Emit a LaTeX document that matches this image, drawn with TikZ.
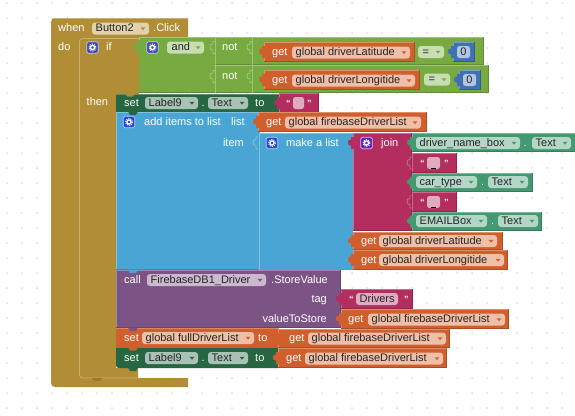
\documentclass[tikz,border=0pt]{standalone}
\usepackage{fontspec}
\setmainfont{Liberation Sans}
\definecolor{ctrl}{HTML}{B18E35}
\definecolor{logic}{HTML}{77AB41}
\definecolor{mathb}{HTML}{3F71B5}
\definecolor{textb}{HTML}{B32D5E}
\definecolor{listb}{HTML}{49A6D4}
\definecolor{varb}{HTML}{D05F2D}
\definecolor{procb}{HTML}{7C5385}
\definecolor{setb}{HTML}{266643}
\definecolor{getb}{HTML}{439970}
\definecolor{fctrl}{HTML}{E0D2AE}
\definecolor{flogic}{HTML}{C9DDB3}
\definecolor{fmath}{HTML}{B2C6E1}
\definecolor{ftext}{HTML}{E1ABBF}
\definecolor{fvar}{HTML}{EFBFA8}
\definecolor{fproc}{HTML}{CBBACE}
\definecolor{fset}{HTML}{A8C2B4}
\definecolor{fget}{HTML}{B4D6C6}
\colorlet{afctrl}{ctrl}
\colorlet{aflogic}{logic}
\colorlet{afvar}{varb}
\colorlet{afproc}{procb}
\colorlet{afset}{setb}
\colorlet{afget}{getb}
\definecolor{icif}{HTML}{3F4CB0}
\definecolor{iclist}{HTML}{2347D8}
\definecolor{icjoin}{HTML}{5B1FC9}
\definecolor{gridc}{HTML}{DEDEDE}
\newcount\nn
\tikzset{
 lbl/.style={anchor=west,inner sep=0pt,text=white,font=\fontsize{11}{11}\selectfont,text height=8pt,text depth=2pt},
 flbl/.style={lbl,text=black!85},
 rlbl/.style={lbl,anchor=east}
}
% label: x, y-centre, text
\newcommand{\lab}[3]{\global\advance\nn by 1 \node[lbl] (n\the\nn) at (#1,#2) {#3};}
\newcommand{\rlab}[3]{\global\advance\nn by 1 \node[rlbl] (n\the\nn) at (#1,#2) {#3};}
% block: colour x1 y1 x2 y2
\newcommand{\blk}[5]{%
 \fill[#1] (#2,#3) rectangle (#4,#5);
 \draw[#1!70!white,line width=.8pt] (#2+.4,#5) -- (#2+.4,#3+.4) -- (#4,#3+.4);
 \draw[#1!82!black,line width=.8pt] (#2,#5-.4) -- (#4-.4,#5-.4) -- (#4-.4,#3);
}
% input tab on the left of x at y
\newcommand{\tabb}[3]{%
 \begin{scope}[shift={(#2,#3)}]
 \fill[#1] (1,-6) -- (-2,-6) -- (-2,-3.5) .. controls (-6,-4.5) and (-6,3.5) .. (-2,2.5) -- (-2,6) -- (1,6) -- cycle;
 \end{scope}}
\newcommand{\hole}[3]{%
 \begin{scope}[shift={(#2,#3)}]
 \draw[#1,line width=.8pt] (0,-6) -- (-2,-6) -- (-2,-3.5) .. controls (-6,-4.5) and (-6,3.5) .. (-2,2.5) -- (-2,6) -- (0,6);
 \end{scope}}
% statement bump below: colour x y
\newcommand{\bump}[3]{\fill[#1] (#2-5,#3-.5) -- (#2-3,#3+3) -- (#2+3,#3+3) -- (#2+5,#3-.5) -- cycle;}
% pill with dropdown: fill x1 x2 y text
\newcommand{\pill}[5]{%
 \fill[#1,rounded corners=3pt] (#2,#4-6) rectangle (#3,#4+6);
 \global\advance\nn by 1 \node[flbl] (n\the\nn) at (#2+3.5,#4) {#5};
 \fill[a#1] (#3-8.5,#4-1.2) -- (#3-3.5,#4-1.2) -- (#3-6,#4+1.6) -- cycle;
}
% gear icon: colour xc yc
\newcommand{\gear}[3]{%
 \fill[#1,draw=white!70!#1,line width=.7pt,rounded corners=1.5pt] (#2-5.7,#3-5.7) rectangle (#2+5.7,#3+5.7);
 \draw[white,line width=1.3pt] (#2,#3) circle (2.1);
 \draw[white,line width=1pt,dash pattern=on 1pt off 1.2pt] (#2,#3) circle (3.5);
}
% empty text quotes: x1 x2 y
\newcommand{\qmark}[3]{%
 \global\advance\nn by 1 \node[lbl,font=\fontsize{9}{9}\selectfont\bfseries] (n\the\nn) at (#1,#3) {“};
 \global\advance\nn by 1 \node[lbl,font=\fontsize{9}{9}\selectfont\bfseries] (n\the\nn) at (#2,#3) {”};
}
\begin{document}
\begin{tikzpicture}[x=1pt,y=-1pt]
\useasboundingbox (0,0) rectangle (575,415);
\clip (0,0) rectangle (575,415);
\fill[white] (0,0) rectangle (575,415);
\foreach \i in {0,...,38} \foreach \j in {0,...,27}
  \fill[gridc] (7+15*\i,3+15*\j) circle (1);
% brown
\fill[ctrl] (55,18) -- (188,18) -- (188,38) -- (139,38) -- (139,94) -- (116,94) -- (116,368) -- (138,368) -- (138,378) -- (188,378) -- (188,387) -- (55,387)
  .. controls (52.5,387) and (51,385.5) .. (51,383) -- (51,22) .. controls (51,19.5) and (52.5,18) .. (55,18) -- cycle;
\draw[ctrl!70!white,line width=.8pt] (55,18.4) -- (188,18.4);
\draw[ctrl!70!white,line width=.8pt] (139,38.4) -- (83,38.4) .. controls (80.5,38.4) and (79.4,40) .. (79.4,42) -- (79.4,374) .. controls (79.4,376.5) and (80.5,378) .. (83,378) -- (138,378);
\fill[ctrl!85!black] (92,378) -- (94,381) -- (100,381) -- (102,378) -- cycle;
\lab{58}{28}{when}
\pill{fctrl}{92}{149}{28.5}{Button2}
\lab{153}{28}{.Click}
\lab{58}{47}{do}
\gear{icif}{92.5}{47.5}
\lab{106}{47}{if}
\lab{86.5}{102}{then}
% logic
\blk{logic}{138.5}{37}{484}{65}
\blk{logic}{138.5}{65}{489}{93}
\fill[logic] (139,40) rectangle (214,92);
\tabb{logic}{138.5}{47}
\draw[logic!70!white,line width=.8pt] (215.5,37.5) -- (215.5,93);
\draw[logic!70!white,line width=.8pt] (252.5,37.5) -- (252.5,93);
\draw[logic!70!white,line width=.8pt] (215.5,65.5) -- (484,65.5);
\hole{logic!70!white}{215}{47.5}
\hole{logic!70!white}{215}{76.5}
\hole{logic!70!white}{252}{47.5}
\hole{logic!70!white}{252}{76.5}
\gear{icif}{152.5}{47.5}
\pill{flogic}{167}{204}{47.5}{\hspace{1pt}and}
\lab{222}{47}{not}
\lab{222}{76}{not}
% first comparison
\blk{varb}{264}{42}{415}{62}\tabb{varb}{264}{52}
\lab{272}{52}{get}
\pill{fvar}{292}{410}{52.5}{global driverLatitude}
\pill{flogic}{418}{444}{52}{\hspace{1pt}=}
\blk{mathb}{453}{42}{475}{62}\tabb{mathb}{453}{52}
\fill[fmath,rounded corners=2.5pt] (457,46) rectangle (470,58);
\global\advance\nn by 1 \node[flbl,anchor=center] (n\the\nn) at (463.5,52) {0};
% second comparison
\blk{varb}{264}{70}{420}{90}\tabb{varb}{264}{80}
\lab{272}{80}{get}
\pill{fvar}{292}{415}{80.5}{global driverLongitide}
\pill{flogic}{424}{450}{79.5}{\hspace{1pt}=}
\blk{mathb}{459}{70}{481}{90}\tabb{mathb}{459}{80}
\fill[fmath,rounded corners=2.5pt] (463,74) rectangle (476,86);
\global\advance\nn by 1 \node[flbl,anchor=center] (n\the\nn) at (469.5,80) {0};
% add items block
\blk{listb}{116}{112}{258.5}{270}
\fill[listb] (258,133) rectangle (353,270);
\draw[listb!70!white,line width=.8pt] (259,133.4) -- (353,133.4);
\draw[listb!70!white,line width=.8pt] (259,112) -- (259,270);
\hole{listb!70!white}{258}{143}
\gear{iclist}{129}{122}
\lab{144}{122}{add items to list}
\lab{231}{122}{list}
\rlab{244}{143}{item}
\gear{iclist}{272}{143}
\lab{286}{143}{make a list}
% set Label9
\fill[setb] (116,94) rectangle (279,112);
\draw[setb!75!white,line width=.6pt] (116,94.3) -- (279,94.3);
\bump{ctrl}{130}{93.5}
\bump{setb}{133}{112}
\lab{124}{103}{set}
\pill{fset}{145}{198}{103}{Label9}
\lab{201.5}{103}{.}
\pill{fset}{208}{248}{103}{Text}
\lab{255}{103}{to}
\blk{textb}{279}{93}{319}{113}\tabb{textb}{279}{103}
\qmark{286}{307}{103}
\fill[ftext,rounded corners=2.5pt] (293,97) rectangle (304,109);
% get firebase list
\blk{varb}{258}{112}{427}{132}\tabb{varb}{258}{122}
\lab{266}{122}{get}
\pill{fvar}{285}{421}{122.5}{global firebaseDriverList}
% join
\blk{textb}{353}{133}{412}{231}\tabb{textb}{353}{143}
\gear{icjoin}{366.5}{143}
\lab{381}{143}{join}
\hole{textb!70!white}{412}{163}
\hole{textb!70!white}{412}{202}
% driver name
\blk{getb}{412}{133}{585}{152}\tabb{getb}{412}{143}
\pill{fget}{416}{520}{143}{driver\_name\_box}
\lab{523.5}{143}{.}
\pill{fget}{532}{571}{143}{Text}
% empty 1
\blk{textb}{412}{153}{457}{173}
\qmark{420}{444}{163}
\fill[ftext,rounded corners=2.5pt] (427,157) rectangle (440,169);
\draw[black,line width=.7pt] (431,168.5) -- (436,168.5);
% car
\blk{getb}{412}{173}{533}{192}\tabb{getb}{412}{182.5}
\pill{fget}{416}{477}{182}{car\_type}
\lab{481}{182}{.}
\pill{fget}{488}{528}{182}{Text}
% empty 2
\blk{textb}{412}{192}{457}{212}
\qmark{420}{444}{202}
\fill[ftext,rounded corners=2.5pt] (427,196) rectangle (440,208);
\draw[black,line width=.7pt] (431,207.5) -- (436,207.5);
% email
\blk{getb}{412}{212}{542}{231}\tabb{getb}{412}{221.5}
\pill{fget}{416}{487}{221}{EMAILBox}
\lab{491}{221}{.}
\pill{fget}{498}{538}{221}{Text}
% gets
\blk{varb}{353}{232}{503}{250}\tabb{varb}{353}{241}
\lab{361}{241}{get}
\pill{fvar}{379}{497}{241}{global driverLatitude}
\blk{varb}{353}{250}{508}{270}\tabb{varb}{353}{260}
\lab{361}{260}{get}
\pill{fvar}{379}{504}{260}{global driverLongitide}
% call
\blk{procb}{116}{270}{341}{328}
\bump{listb}{133}{270}
\lab{124}{280}{call}
\pill{fproc}{147}{266}{280}{FirebaseDB1\_Driver}
\lab{271}{280}{.StoreValue}
\rlab{327}{299}{tag}
\rlab{327}{319}{valueToStore}
\blk{textb}{341}{289}{413}{309}\tabb{textb}{341}{299}
\qmark{349}{404}{299}
\fill[ftext,rounded corners=3pt] (356,293) rectangle (398,305);
\global\advance\nn by 1 \node[flbl] (n\the\nn) at (359.5,299) {Drivers};
\blk{varb}{341}{309}{509}{329}\tabb{varb}{341}{319}
\lab{348}{319}{get}
\pill{fvar}{368}{505}{319.5}{global firebaseDriverList}
% set global
\fill[varb] (116,328) rectangle (279,348);
\draw[varb!75!white,line width=.6pt] (116,328.3) -- (279,328.3);
\bump{procb}{133}{328}
\lab{124}{338}{set}
\pill{fvar}{142}{254}{338}{global fullDriverList}
\lab{258}{338}{to}
\blk{varb}{278}{329}{450}{348}\tabb{varb}{278}{338.5}
\lab{289}{338}{get}
\pill{fvar}{308}{446}{338.5}{global firebaseDriverList}
% set label bottom
\fill[setb] (119,348) -- (279,348) -- (279,368) -- (119,368) .. controls (117,368) and (116,367) .. (116,365) -- (116,348) -- cycle;
\bump{varb}{133}{347.5}
\bump{setb}{133}{368}
\lab{124}{358}{set}
\pill{fset}{145}{198}{358}{Label9}
\lab{201.5}{358}{.}
\pill{fset}{208}{248}{358}{Text}
\lab{255}{358}{to}
\blk{varb}{278}{348}{447}{368}\tabb{varb}{278}{358}
\lab{286}{358}{get}
\pill{fvar}{305}{443}{358.5}{global firebaseDriverList}
\end{tikzpicture}
\end{document}
